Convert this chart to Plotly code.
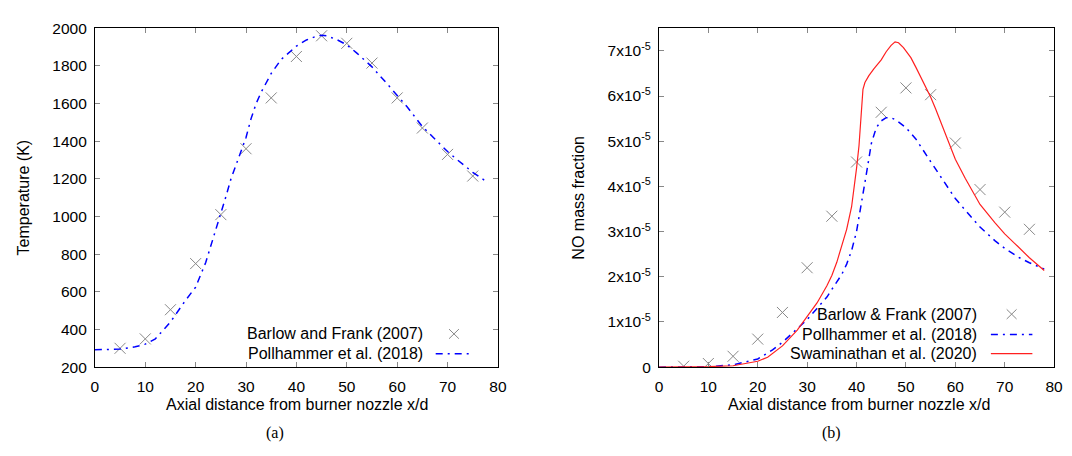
import plotly.graph_objects as go

# ---------------- data ----------------
# (a) Temperature
exp_x = [5, 10, 15, 20, 25, 30, 35, 40, 45, 50, 55, 60, 65, 70, 75]
exp_T = [300, 350, 505, 750, 1010, 1360, 1630, 1850, 1960, 1920, 1815, 1630, 1470, 1330, 1215]

pol_T_x = [0, 3, 5, 8, 10, 12, 15, 18, 20, 22, 24, 25, 26, 27, 28, 29, 30, 31, 32, 33, 35, 37,
           40, 42, 44, 45, 46, 48, 50, 52, 55, 58, 60, 62, 65, 68, 70, 72, 75, 78]
pol_T = [292, 293, 296, 308, 322, 350, 440, 555, 625, 756, 926, 1011, 1105, 1199, 1270, 1345,
         1420, 1520, 1600, 1660, 1760, 1835, 1905, 1938, 1958, 1963, 1960, 1940, 1912, 1868,
         1795, 1705, 1642, 1582, 1478, 1400, 1345, 1300, 1235, 1180]

# (b) NO mass fraction (units of 1e-5)
exp_NO = [0.02, 0.08, 0.24, 0.62, 1.21, 2.20, 3.34, 4.54, 5.64, 6.18, 6.03, 4.96, 3.93, 3.43, 3.05]

pol_NO_x = [0, 5, 10, 15, 18, 20, 23, 25, 28, 30, 32, 34, 35, 36, 37, 38, 39, 40, 41, 42, 43,
            44, 45, 46, 47, 48, 50, 52, 55, 58, 60, 63, 65, 68, 70, 73, 75, 78]
pol_NO = [0, 0, 0.01, 0.05, 0.12, 0.18, 0.38, 0.55, 0.85, 1.05, 1.30, 1.55, 1.72, 1.88, 2.05,
          2.28, 2.58, 3.00, 3.60, 4.28, 4.95, 5.30, 5.45, 5.52, 5.52, 5.47, 5.30, 5.05, 4.55,
          4.05, 3.73, 3.35, 3.10, 2.80, 2.63, 2.42, 2.31, 2.17]

swa_NO_x = [0, 5, 10, 15, 18, 20, 22, 25, 28, 30, 32, 34, 35, 36, 37, 38, 39, 39.5, 40, 40.5,
            41, 41.3, 41.7, 42.5, 43.5, 45, 46, 47, 47.8, 48.5, 49.5, 50, 51, 52, 53, 54, 55,
            56, 57, 58, 60, 62, 65, 68, 70, 72, 75, 78]
swa_NO = [0, 0, 0.01, 0.03, 0.08, 0.13, 0.22, 0.47, 0.82, 1.12, 1.42, 1.80, 2.03, 2.32, 2.67,
          3.05, 3.55, 3.95, 4.40, 4.90, 5.70, 6.15, 6.30, 6.45, 6.60, 6.80, 6.98, 7.12, 7.20,
          7.18, 7.07, 7.00, 6.85, 6.64, 6.42, 6.20, 5.98, 5.72, 5.44, 5.18, 4.60, 4.18, 3.60,
          3.20, 2.95, 2.74, 2.42, 2.14]

no_tick_vals = [0, 1, 2, 3, 4, 5, 6, 7]
no_tick_text = ["0"] + [f"{v}x10<sup>-5</sup>" for v in no_tick_vals[1:]]

# ---------------- styling ----------------
W, H = 1072, 456
FONT = "Liberation Sans"
FS_TICK = 15.5
FS = 16
GRAY = "#888888"
BLUE = "#0000ff"
RED = "#ff2020"
DASHDOT = "7px,5px,2px,5px"


def px(xp):
    return xp / W


def py(yp):
    return 1 - yp / H


fig = go.Figure()

fig.add_trace(go.Scatter(x=exp_x, y=exp_T, mode="markers", xaxis="x", yaxis="y",
                         marker=dict(symbol="x-thin", size=11, line=dict(width=1, color=GRAY)),
                         showlegend=False))
fig.add_trace(go.Scatter(x=pol_T_x, y=pol_T, mode="lines", xaxis="x", yaxis="y",
                         line=dict(color=BLUE, width=1.5, dash=DASHDOT), showlegend=False))

fig.add_trace(go.Scatter(x=exp_x, y=[v * 1e-5 for v in exp_NO], mode="markers", xaxis="x2", yaxis="y2",
                         marker=dict(symbol="x-thin", size=11, line=dict(width=1, color=GRAY)),
                         showlegend=False))
fig.add_trace(go.Scatter(x=pol_NO_x, y=[v * 1e-5 for v in pol_NO], mode="lines", xaxis="x2", yaxis="y2",
                         line=dict(color=BLUE, width=1.5, dash=DASHDOT), showlegend=False))
fig.add_trace(go.Scatter(x=swa_NO_x, y=[v * 1e-5 for v in swa_NO], mode="lines", xaxis="x2", yaxis="y2",
                         line=dict(color=RED, width=1.2), showlegend=False))

axis_common = dict(showline=True, linecolor="black", linewidth=1, mirror="ticks",
                   ticks="inside", ticklen=5, tickcolor=GRAY, tickwidth=1,
                   showgrid=False, zeroline=False,
                   tickfont=dict(family=FONT, size=FS_TICK, color="black"))

yd = [py(372), py(20)]
fig.update_layout(
    width=W, height=H, margin=dict(l=0, r=0, t=0, b=0),
    paper_bgcolor="white", plot_bgcolor="white",
    xaxis=dict(domain=[px(92), px(500)], range=[0, 80], dtick=10, anchor="y",
               ticklabelstandoff=5, **axis_common),
    yaxis=dict(domain=yd, range=[200, 2000], dtick=200, anchor="x",
               ticklabelstandoff=4, **axis_common),
    xaxis2=dict(domain=[px(663), px(1063)], range=[0, 80], dtick=10, anchor="y2",
                ticklabelstandoff=5, **axis_common),
    yaxis2=dict(domain=yd, range=[0, 7.5e-5], tickvals=[v * 1e-5 for v in no_tick_vals],
                ticktext=no_tick_text, anchor="x2", ticklabelstandoff=4, **axis_common),
)

ann = []
txt = dict(family=FONT, size=FS, color="black")
# axis titles
ann.append(dict(text="Axial distance from burner nozzle x/d", x=px(297), y=py(411), xref="paper", yref="paper",
                showarrow=False, font=txt, xanchor="center", yanchor="middle"))
ann.append(dict(text="Axial distance from burner nozzle x/d", x=px(866), y=py(411), xref="paper", yref="paper",
                showarrow=False, font=txt, xanchor="center", yanchor="middle"))
ann.append(dict(text="Temperature (K)", x=px(20), y=py(196), xref="paper", yref="paper", textangle=-90,
                showarrow=False, font=txt, xanchor="center", yanchor="middle"))
ann.append(dict(text="NO mass fraction", x=px(582), y=py(196), xref="paper", yref="paper", textangle=-90,
                showarrow=False, font=txt, xanchor="center", yanchor="middle"))
# subfigure labels
ann.append(dict(text="(a)", x=px(274), y=py(440), xref="paper", yref="paper", showarrow=False,
                font=dict(family="Liberation Serif", size=16, color="black"), xanchor="center", yanchor="middle"))
ann.append(dict(text="(b)", x=px(838), y=py(440), xref="paper", yref="paper", showarrow=False,
                font=dict(family="Liberation Serif", size=16, color="black"), xanchor="center", yanchor="middle"))

shapes = []


def legend_row(label, x_text_right, y_row, kind, x_sym_l, x_sym_r):
    ann.append(dict(text=label, x=px(x_text_right), y=py(y_row), xref="paper", yref="paper",
                    showarrow=False, font=txt, xanchor="right", yanchor="middle"))
    if kind == "x":
        cx = (x_sym_l + x_sym_r) / 2
        for dy in (-1, 1):
            shapes.append(dict(type="line", xref="paper", yref="paper",
                               x0=px(cx - 5), x1=px(cx + 5), y0=py(y_row - 5 * dy), y1=py(y_row + 5 * dy),
                               line=dict(color=GRAY, width=1)))
    elif kind == "dashdot":
        shapes.append(dict(type="line", xref="paper", yref="paper", x0=px(x_sym_l), x1=px(x_sym_r),
                           y0=py(y_row), y1=py(y_row), line=dict(color=BLUE, width=1.5, dash=DASHDOT)))
    else:
        shapes.append(dict(type="line", xref="paper", yref="paper", x0=px(x_sym_l), x1=px(x_sym_r),
                           y0=py(y_row), y1=py(y_row), line=dict(color=RED, width=1.2)))


legend_row("Barlow and Frank (2007)", 426, 337.5, "x", 437, 474)
legend_row("Pollhammer et al. (2018)", 426, 358, "dashdot", 437, 474)
legend_row("Barlow &amp; Frank (2007)", 987, 317, "x", 999, 1041)
legend_row("Pollhammer et al. (2018)", 987, 338, "dashdot", 999, 1041)
legend_row("Swaminathan et al. (2020)", 987, 358, "solid", 999, 1041)

fig.update_layout(annotations=ann, shapes=shapes)
fig.write_html("out.html")
